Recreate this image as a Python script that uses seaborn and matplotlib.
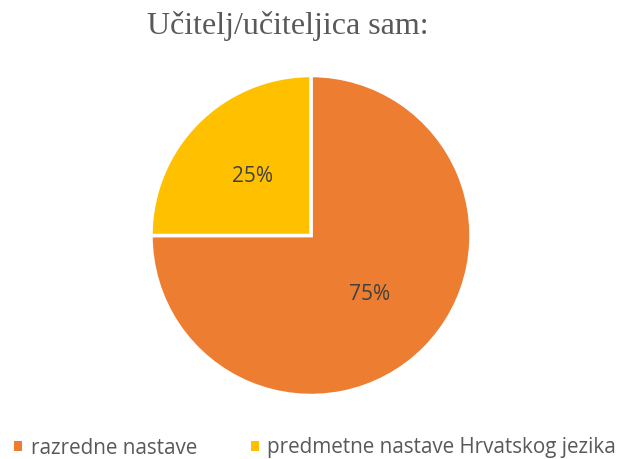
import matplotlib
matplotlib.use("Agg")
import matplotlib.pyplot as plt
from matplotlib.patches import Patch
import seaborn as sns

# data
categories = ["razredne nastave", "predmetne nastave Hrvatskog jezika"]
shares = [75, 25]
colors = ["#ED7D31", "#FFC000"]
title = "Učitelj/učiteljica sam:"

sns.set_theme(style="white")
plt.rcParams['font.family'] = ['DejaVu Sans']

W, H = 622, 459
fig = plt.figure(figsize=(W / 100, H / 100), dpi=100)
fig.patch.set_facecolor("white")

# pie box: centre (311, 235.5) px, radius 160 px
cx, cy, r = 311, 235.5, 160
ax = fig.add_axes([(cx - r) / W, (H - cy - r) / H, 2 * r / W, 2 * r / H])

wedges, texts, autotexts = ax.pie(
    shares, colors=colors, startangle=90, counterclock=False,
    autopct="%d%%", pctdistance=0.52,
    wedgeprops=dict(edgecolor="white", linewidth=2.5),
    textprops=dict(fontsize=15, color="#404040", family="Open Sans"),
)
ax.set_xlim(-1, 1)
ax.set_ylim(-1, 1)
ax.set_aspect("equal")
ax.axis("off")

fig.text(288 / W, 1 - 26 / H, title, ha="center", va="center",
         fontsize=23, color="#595959", family="Liberation Serif")

# plain square handles (the wedge's white edge would shrink them)
handles = [Patch(facecolor=c, edgecolor="none") for c in colors]
leg = fig.legend(handles, categories, loc="center", bbox_to_anchor=(315 / W, 1 - 448 / H),
                 ncol=2, frameon=False, handlelength=0.4, handleheight=0.4,
                 handletextpad=0.4, columnspacing=2.6, labelcolor="#595959",
                 borderpad=0, prop=dict(family="Open Sans", size=14.9))

fig.savefig("out.png", dpi=100, facecolor="white")
